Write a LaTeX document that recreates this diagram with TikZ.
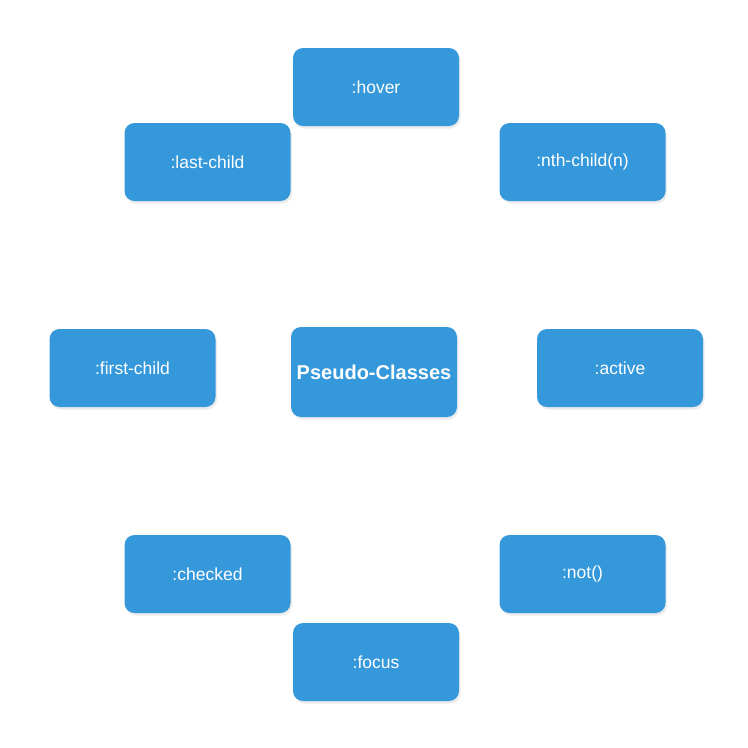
\documentclass[tikz,border=0pt]{standalone}
\usepackage{fontspec}
\setmainfont{Liberation Sans}
\usetikzlibrary{shadows}
\definecolor{boxblue}{HTML}{3498DB}
\tikzset{
  pcbox/.style={fill=boxblue, draw=none, rounded corners=10pt, minimum width=166pt, minimum height=78pt,
    text=white, font=\fontsize{17.5}{21}\selectfont, inner sep=0pt,
    drop shadow={opacity=0.15, shadow xshift=1.5pt, shadow yshift=-2.5pt}},
  centerbox/.style={pcbox, minimum height=90pt, font=\bfseries\fontsize{20}{24}\selectfont}
}
\begin{document}
\begin{tikzpicture}[x=1pt,y=-1pt]
\useasboundingbox (0,0) rectangle (748,748);
\node[centerbox] (center) at (374,372) {Pseudo-Classes};
\node[pcbox] (hover) at (376,87) {:hover};
\node[pcbox] (lastchild) at (207.5,162) {:last-child};
\node[pcbox] (nthchild) at (582.5,162) {:nth-child(n)};
\node[pcbox] (firstchild) at (132.5,368) {:first-child};
\node[pcbox] (active) at (620,368) {:active};
\node[pcbox] (checked) at (207.5,574) {:checked};
\node[pcbox] (notc) at (582.5,574) {:not()};
\node[pcbox] (focus) at (376,662) {:focus};
\end{tikzpicture}
\end{document}
